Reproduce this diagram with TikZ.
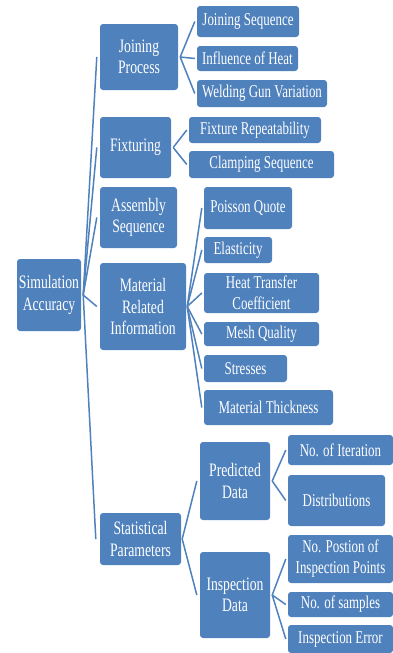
\documentclass[tikz,border=0pt]{standalone}
\usepackage{fontspec}
\setmainfont{Liberation Serif}[FakeStretch=0.72]
\usepackage{tikz}
\usetikzlibrary{positioning}
\definecolor{smartblue}{HTML}{4F81BD}
\tikzset{
  box/.style={fill=smartblue, rounded corners=3pt, text=white, align=center,
              inner sep=0pt, font=\fontsize{18}{21}\selectfont},
  bigbox/.style={box, font=\fontsize{19}{21.5}\selectfont},
  link/.style={draw=smartblue, line width=1.5pt}
}
\begin{document}
\begin{tikzpicture}[x=1pt,y=-1pt]
            \useasboundingbox (0,0) rectangle (393,653);
            % root and first level
            \node[bigbox, minimum width=64pt, minimum height=72pt] (sa) at (49,295)    {Simulation\\Accuracy};
            \node[bigbox, minimum width=78pt, minimum height=66pt] (jp) at (139,57)    {Joining\\Process};
            \node[bigbox, minimum width=71pt, minimum height=61pt] (fx) at (135.5,147.5) {Fixturing};
            \node[bigbox, minimum width=77pt, minimum height=61pt] (as) at (138.5,217.5) {Assembly\\Sequence};
            \node[bigbox, minimum width=86pt, minimum height=87pt] (mr) at (143,306.5)  {Material\\Related\\Information};
            \node[bigbox, minimum width=81pt, minimum height=52pt] (sp) at (140.5,539)  {Statistical\\Parameters};
            % second level
            \node[box, minimum width=102pt, minimum height=31pt] (js) at (248,21.5)  {Joining Sequence};
            \node[box, minimum width=101pt, minimum height=25pt] (ih) at (247.5,58.5) {Influence of Heat};
            \node[box, minimum width=130pt, minimum height=27pt] (wg) at (262,93.5)  {Welding Gun Variation};
            \node[box, minimum width=132pt, minimum height=26pt] (fr) at (255,130)   {Fixture Repeatability};
            \node[box, minimum width=145pt, minimum height=27pt] (cs) at (261.5,164.5) {Clamping Sequence};
            \node[box, minimum width=88pt,  minimum height=42pt] (pq) at (248,208)   {Poisson Quote};
            \node[box, minimum width=68pt,  minimum height=26pt] (el) at (238,250)   {Elasticity};
            \node[box, minimum width=115pt, minimum height=40pt] (ht) at (261.5,293) {Heat Transfer\\Coefficient};
            \node[box, minimum width=115pt, minimum height=24pt] (mq) at (261.5,334) {Mesh Quality};
            \node[box, minimum width=83pt,  minimum height=27pt] (st) at (245.5,368.5) {Stresses};
            \node[box, minimum width=129pt, minimum height=35pt] (mt) at (268.5,407.5) {Material Thickness};
            \node[bigbox, minimum width=70pt, minimum height=78pt] (pd) at (235,481)  {Predicted\\Data};
            \node[bigbox, minimum width=70pt, minimum height=86pt] (id) at (235,595)  {Inspection\\Data};
            % third level
            \node[box, minimum width=105pt, minimum height=30pt] (ni) at (340.5,450)   {No. of Iteration};
            \node[box, minimum width=97pt,  minimum height=51pt] (di) at (336.5,500.5) {Distributions};
            \node[box, minimum width=105pt, minimum height=48pt] (np) at (340.5,559)   {No. Postion of\\Inspection Points};
            \node[box, minimum width=105pt, minimum height=25pt] (ns) at (340.5,604.5) {No. of samples};
            \node[box, minimum width=105pt, minimum height=28pt] (ie) at (340.5,639)   {Inspection Error};
            % connectors
            \path[link]
            ([xshift=2pt]sa.east) edge ([xshift=-3pt]jp.west)
                                  edge ([xshift=-3pt]fx.west)
                                  edge ([xshift=-3pt]as.west)
                                  edge ([xshift=-3pt]mr.west)
                                  edge ([xshift=-4pt]sp.west)
            ([xshift=2pt]jp.east) edge ([xshift=-2pt]js.west)
                                  edge ([xshift=-2pt]ih.west)
                                  edge ([xshift=-2pt]wg.west)
            ([xshift=2pt]fx.east) edge ([xshift=-2pt]fr.west)
                                  edge ([xshift=-2pt]cs.west)
            ([xshift=1pt]mr.east) edge ([xshift=-2pt]pq.west)
                                  edge ([xshift=-2pt]el.west)
                                  edge ([xshift=-2pt]ht.west)
                                  edge ([xshift=-2pt]mq.west)
                                  edge ([xshift=-2pt]st.west)
                                  edge ([xshift=-2pt]mt.west)
            ([xshift=1pt]sp.east) edge ([xshift=-3pt]pd.west)
                                  edge ([xshift=-3pt]id.west)
            ([xshift=2pt]pd.east) edge ([xshift=-2pt]ni.west)
                                  edge ([xshift=-2pt]di.west)
            ([xshift=2pt]id.east) edge ([xshift=-2pt]np.west)
                                  edge ([xshift=-2pt]ns.west)
                                  edge ([xshift=-2pt]ie.west)
            ;
\end{tikzpicture}
\end{document}
